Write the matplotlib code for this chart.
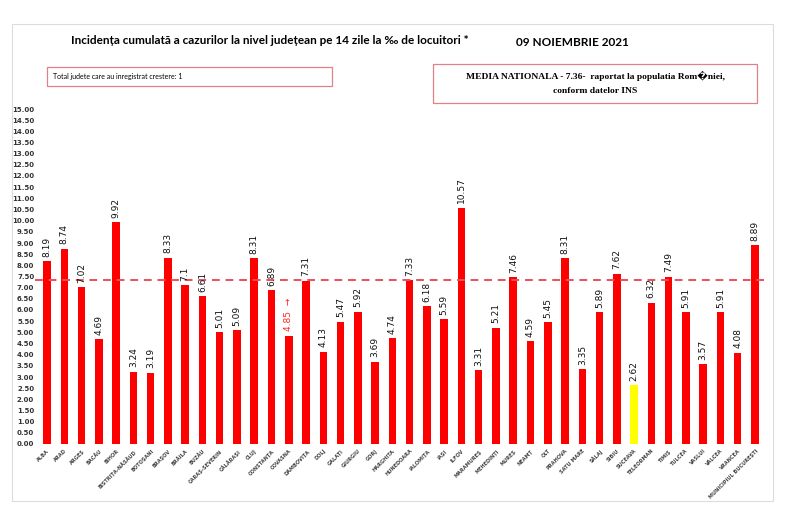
import numpy as np
import matplotlib
matplotlib.use("Agg")
import matplotlib.pyplot as plt
from matplotlib.patches import Rectangle

counties = ["ALBA", "ARAD", "ARGEȘ", "BACĂU", "BIHOR", "BISTRIȚA-NĂSĂUD", "BOTOȘANI",
            "BRAȘOV", "BRĂILA", "BUZĂU", "CARAȘ-SEVERIN", "CĂLĂRAȘI", "CLUJ", "CONSTANȚA",
            "COVASNA", "DÂMBOVIȚA", "DOLJ", "GALAȚI", "GIURGIU", "GORJ", "HARGHITA",
            "HUNEDOARA", "IALOMIȚA", "IAȘI", "ILFOV", "MARAMUREȘ", "MEHEDINȚI", "MUREȘ",
            "NEAMȚ", "OLT", "PRAHOVA", "SATU MARE", "SĂLAJ", "SIBIU", "SUCEAVA",
            "TELEORMAN", "TIMIȘ", "TULCEA", "VASLUI", "VÂLCEA", "VRANCEA",
            "MUNICIPIUL BUCUREȘTI"]
values = [8.19, 8.74, 7.02, 4.69, 9.92, 3.24, 3.19, 8.33, 7.1, 6.61, 5.01, 5.09, 8.31,
          6.89, 4.85, 7.31, 4.13, 5.47, 5.92, 3.69, 4.74, 7.33, 6.18, 5.59, 10.57, 3.31,
          5.21, 7.46, 4.59, 5.45, 8.31, 3.35, 5.89, 7.62, 2.62, 6.32, 7.49, 5.91, 3.57,
          5.91, 4.08, 8.89]
value_labels = ["8.19", "8.74", "7.02", "4.69", "9.92", "3.24", "3.19", "8.33", "7.1",
                "6.61", "5.01", "5.09", "8.31", "6.89", "4.85", "7.31", "4.13", "5.47",
                "5.92", "3.69", "4.74", "7.33", "6.18", "5.59", "10.57", "3.31", "5.21",
                "7.46", "4.59", "5.45", "8.31", "3.35", "5.89", "7.62", "2.62", "6.32",
                "7.49", "5.91", "3.57", "5.91", "4.08", "8.89"]
media_nationala = 7.36
highlight = "SUCEAVA"
rising = "COVASNA"
yticks = np.arange(0, 15.01, 0.5)

W, H = 800, 517
fig = plt.figure(figsize=(W / 100, H / 100), dpi=100)

def px(x, y):
    return x / W, 1 - y / H

# outer frame
fig.patches.append(Rectangle(px(12, 501), 761 / W, 477 / H, transform=fig.transFigure,
                             fill=False, edgecolor="#dcdcdc", linewidth=0.8))

ax = fig.add_axes([38.4 / W, 1 - 444 / H, 725.2 / W, 335 / H])
x = np.arange(len(counties))
colors = ["#FFFF00" if c == highlight else "#FF0000" for c in counties]
ax.bar(x, values, width=0.44, color=colors, zorder=2)
ax.axhline(media_nationala, color="#E8505B", linestyle=(0, (4, 3)), linewidth=1.4,
           xmin=-0.005, xmax=1, zorder=3, clip_on=False)

for xi, v, lab, c in zip(x, values, value_labels, counties):
    if c == rising:
        ax.text(xi, v + 0.2, lab + "  →", rotation=90, ha="center", va="bottom",
                fontsize=6.5, color="#FF2020", fontfamily="DejaVu Sans")
    else:
        ax.text(xi, v + 0.2, lab, rotation=90, ha="center", va="bottom",
                fontsize=6.5, color="#111111", fontfamily="DejaVu Sans")

ax.set_xlim(-0.5, len(counties) - 0.5)
ax.set_ylim(0, 15)
ax.set_yticks(yticks)
ax.set_yticklabels([f"{t:.2f}" for t in yticks], fontsize=5, fontweight="bold",
                   color="#333333")
ax.set_xticks(x)
ax.set_xticklabels(counties, rotation=45, ha="right", rotation_mode="anchor",
                   fontsize=3.6, fontweight="bold", color="#444444")
ax.tick_params(axis="both", length=0, pad=3)
for s in ax.spines.values():
    s.set_visible(False)

fig.text(*px(270, 40), "Incidența cumulată a cazurilor la nivel județean pe 14 zile la ‰ de locuitori *",
         ha="center", va="center", fontsize=8.5, fontweight="bold", fontfamily="Lato")
fig.text(*px(572, 42), "09 NOIEMBRIE 2021", ha="center", va="center", fontsize=8.5,
         fontweight="bold", fontfamily="Lato")

fig.patches.append(Rectangle(px(47, 86), 285 / W, 19 / H, transform=fig.transFigure,
                             fill=False, edgecolor="#E08088", linewidth=0.9))
fig.text(*px(53, 77), "Total judete care au inregistrat crestere: 1", ha="left", va="center",
         fontsize=5, fontfamily="Lato")

fig.patches.append(Rectangle(px(433, 103), 324 / W, 39 / H, transform=fig.transFigure,
                             fill=False, edgecolor="#E08088", linewidth=0.9))
fig.text(*px(595, 76), "MEDIA NATIONALA - 7.36-  raportat la populatia Rom\ufffdniei,",
         ha="center", va="center", fontsize=6.8, fontweight="bold",
         fontfamily=["Liberation Serif", "DejaVu Sans"])
fig.text(*px(595, 91), "conform datelor INS", ha="center", va="center", fontsize=6.8,
         fontweight="bold", fontfamily=["Liberation Serif", "DejaVu Sans"])

fig.savefig("out.png", dpi=100)
